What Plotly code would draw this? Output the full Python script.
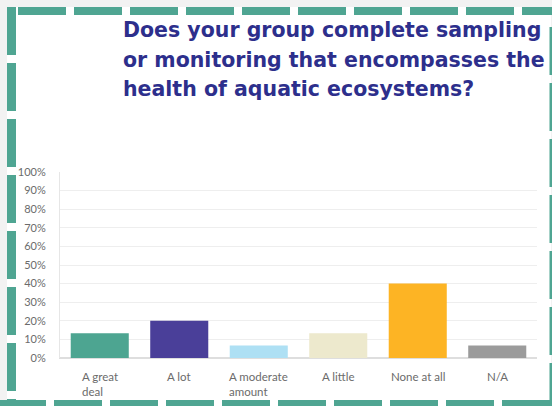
import plotly.graph_objects as go

# Survey responses (share of groups, %)
categories = ["A great deal", "A lot", "A moderate amount", "A little", "None at all", "N/A"]
tick_labels = ["A great<br>deal", "A lot", "A moderate<br>amount", "A little", "None at all", "N/A"]
shares = [13.3, 20.0, 6.7, 13.3, 40.0, 6.7]
bar_colors = ["#4da591", "#4a3f99", "#aee0f4", "#ede9cd", "#fdb424", "#9b9b9b"]
y_ticks = [0, 10, 20, 30, 40, 50, 60, 70, 80, 90, 100]
y_tick_text = [f"{v}%" for v in y_ticks]
title_lines = [
    "Does your group complete sampling",
    "or monitoring that encompasses the",
    "health of aquatic ecosystems?",
]

W, H = 552, 406
L, R, T, B = 60, 15, 172, 48
PW, PH = W - L - R, H - T - B


def px(x):
    return (x - L) / PW


def py(y):
    return (H - B - y) / PH


BORDER = "#4fa592"
TEXT = "#6b6b6b"

fig = go.Figure(
    go.Bar(
        x=categories,
        y=shares,
        marker=dict(color=bar_colors, line=dict(width=0)),
        width=0.73,
        hoverinfo="skip",
    )
)

shapes = [
    # white card
    dict(type="rect", xref="paper", yref="paper", x0=px(7), x1=px(551), y0=py(7), y1=py(420),
         fillcolor="white", line=dict(width=0), layer="below"),
    # dashed card border
    dict(type="line", xref="paper", yref="paper", x0=px(18), x1=px(620), y0=py(11), y1=py(11),
         line=dict(color=BORDER, width=8, dash="48px,8px"), layer="above"),
    dict(type="line", xref="paper", yref="paper", x0=px(11.5), x1=px(11.5), y0=py(7), y1=py(440),
         line=dict(color=BORDER, width=9, dash="48px,8px"), layer="above"),
    dict(type="line", xref="paper", yref="paper", x0=px(-2), x1=px(620), y0=py(404), y1=py(404),
         line=dict(color=BORDER, width=8, dash="48px,8px"), layer="above"),
    dict(type="line", xref="paper", yref="paper", x0=px(553.5), x1=px(553.5), y0=py(27), y1=py(440),
         line=dict(color=BORDER, width=8, dash="48px,8px"), layer="above"),
]

annotations = []
for i, line in enumerate(title_lines):
    annotations.append(dict(
        text=f"<b>{line}</b>", xref="paper", yref="paper", x=px(121), y=py(30 + 29.5 * i),
        xanchor="left", yanchor="middle", showarrow=False,
        font=dict(family="DejaVu Sans", size=20.5, color="#2d2f8c"),
    ))
for cat, lab in zip(categories, tick_labels):
    annotations.append(dict(
        text=lab, xref="x", yref="paper", x=cat, y=py(368), xanchor="center", yanchor="top",
        align="left", showarrow=False, font=dict(family="Lato", size=11.5, color=TEXT),
    ))

fig.update_layout(
    width=W, height=H,
    margin=dict(l=L, r=R, t=T, b=B, pad=0),
    paper_bgcolor="#f2f2f2",
    plot_bgcolor="white",
    showlegend=False,
    bargap=0.27,
    shapes=shapes,
    annotations=annotations,
    xaxis=dict(showticklabels=False, showgrid=False, showline=True, linecolor="#dedede",
               linewidth=1, fixedrange=True),
    yaxis=dict(range=[0, 100], tickmode="array", tickvals=y_ticks, ticktext=y_tick_text,
               showgrid=True, gridcolor="#eeeeee", gridwidth=1, zeroline=True,
               zerolinecolor="#dedede", showline=True, linecolor="#e6e6e6", linewidth=1,
               ticks="outside", ticklen=11, tickcolor="rgba(0,0,0,0)",
               tickfont=dict(family="Lato", size=11, color=TEXT), fixedrange=True),
)

fig.write_html("out.html", config={"displayModeBar": False})
